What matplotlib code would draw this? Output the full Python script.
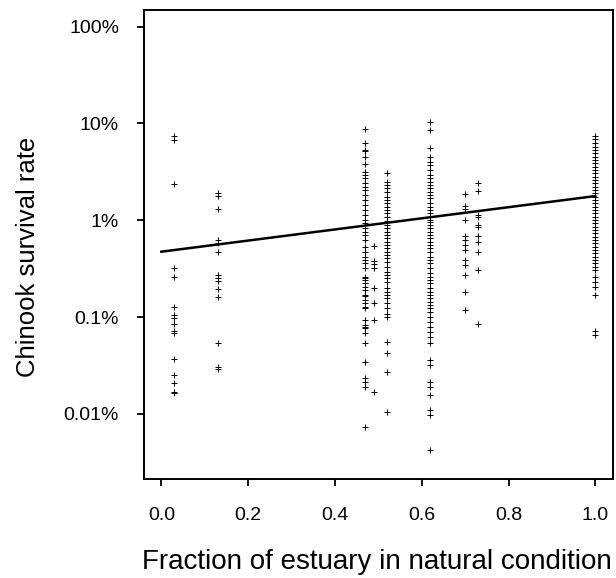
import numpy as np
import matplotlib
matplotlib.use("Agg")
import matplotlib.pyplot as plt
from matplotlib.ticker import FixedLocator, NullLocator

plt.rcParams['font.family'] = ['Liberation Sans', 'DejaVu Sans']

# fraction of estuary in natural condition for each group of releases
x_groups = [0.03, 0.13, 0.47, 0.49, 0.52, 0.62, 0.70, 0.73, 1.00]

# survival rates (%), one list per group
surv_003 = [7.43, 6.76, 2.37, 0.319, 0.258, 0.128, 0.105, 0.097, 0.085,
            0.0718, 0.068, 0.0367, 0.0251, 0.0207, 0.0169, 0.0165]
surv_013 = [1.93, 1.78, 1.31, 0.625, 0.587, 0.474, 0.272, 0.255, 0.236,
            0.194, 0.160, 0.0536, 0.0308, 0.0289]
surv_047 = [8.71, 6.25, 5.32, 5.2, 4.54, 3.79, 3.18, 2.94, 2.72, 2.41, 2.22,
            2.06, 1.83, 1.62, 1.44, 1.28, 1.13, 1.01, 0.93, 0.83, 0.76, 0.70,
            0.625, 0.533, 0.474, 0.421, 0.389, 0.360, 0.319, 0.261, 0.255,
            0.242, 0.223, 0.206, 0.191, 0.169, 0.165, 0.150, 0.139, 0.128,
            0.123, 0.093, 0.083, 0.080, 0.0766, 0.068, 0.0536, 0.0346,
            0.0233, 0.0215, 0.0191, 0.00738]
surv_049 = [0.542, 0.38, 0.35, 0.319, 0.199, 0.139, 0.093, 0.0169]
surv_052 = [3.06, 2.50, 2.32, 2.14, 1.97, 1.75, 1.62, 1.50, 1.38, 1.28, 1.18,
            1.09, 0.984, 0.894, 0.83, 0.76, 0.70, 0.652, 0.601, 0.556, 0.514,
            0.474, 0.438, 0.405, 0.373, 0.332, 0.294, 0.272, 0.252, 0.232,
            0.199, 0.183, 0.169, 0.156, 0.139, 0.123, 0.109, 0.101, 0.0557,
            0.0423, 0.0273, 0.0105]
surv_062 = [10.4, 8.57, 5.54, 4.54, 4.03, 3.73, 3.31, 2.94, 2.72, 2.50, 2.32,
            2.14, 1.97, 1.83, 1.69, 1.50, 1.38, 1.28, 1.18, 1.09, 1.01, 0.96,
            0.894, 0.83, 0.76, 0.70, 0.652, 0.601, 0.556, 0.514, 0.474,
            0.421, 0.389, 0.360, 0.319, 0.283, 0.261, 0.242, 0.223, 0.199,
            0.183, 0.169, 0.156, 0.144, 0.133, 0.123, 0.114, 0.101, 0.0896,
            0.0796, 0.0707, 0.0628, 0.0536, 0.0360, 0.0320, 0.0215, 0.0191,
            0.0157, 0.0110, 0.00975, 0.00424]
surv_070 = [1.87, 1.41, 1.30, 1.01, 0.689, 0.625, 0.556, 0.493, 0.389,
            0.345, 0.272, 0.183, 0.118]
surv_073 = [2.45, 2.01, 1.13, 1.07, 0.894, 0.859, 0.689, 0.601, 0.474,
            0.307, 0.0843]
surv_100 = [7.43, 6.87, 6.25, 5.75, 5.32, 4.92, 4.54, 4.20, 3.88, 3.58, 3.31,
            3.06, 2.82, 2.61, 2.41, 2.22, 2.06, 1.90, 1.75, 1.62, 1.50, 1.38,
            1.28, 1.18, 1.09, 1.01, 0.93, 0.86, 0.794, 0.734, 0.678, 0.625,
            0.578, 0.533, 0.493, 0.456, 0.421, 0.389, 0.360, 0.332, 0.307,
            0.261, 0.232, 0.206, 0.169, 0.0718, 0.0653]

# fitted trend line (%), end points
fit_x = [0.0, 1.0]
fit_y = [0.474, 1.78]

y_ticks = [100, 10, 1, 0.1, 0.01]
y_ticklabels = ["100%", "10%", "1%", "0.1%", "0.01%"]
x_ticks = [0.0, 0.2, 0.4, 0.6, 0.8, 1.0]
x_ticklabels = ["0.0", "0.2", "0.4", "0.6", "0.8", "1.0"]

groups = [surv_003, surv_013, surv_047, surv_049, surv_052,
          surv_062, surv_070, surv_073, surv_100]

fig = plt.figure(figsize=(6.16, 5.78), dpi=100)
ax = fig.add_axes([0.2338, 0.1713, 0.7609, 0.8114])

for xv, ys in zip(x_groups, groups):
    ax.plot([xv] * len(ys), ys, linestyle='none', marker='+',
            markersize=5, markeredgewidth=0.7, color='black')

ax.plot(fit_x, fit_y, color='black', linewidth=1.8)

ax.set_yscale('log')
ax.set_xlim(-0.04, 1.04)
ax.set_ylim(0.00213, 148.6)

ax.yaxis.set_major_locator(FixedLocator(y_ticks))
ax.yaxis.set_minor_locator(NullLocator())
ax.set_yticklabels(y_ticklabels)
ax.set_xticks(x_ticks)
ax.set_xticklabels(x_ticklabels)

ax.tick_params(axis='both', direction='out', length=5, width=1.3,
               labelsize=14)
ax.tick_params(axis='y', pad=13)
ax.tick_params(axis='x', pad=15)
for s in ax.spines.values():
    s.set_linewidth(1.4)

# axis titles placed as figure text
fig.text(28 / 616, 1 - 257 / 578, "Chinook survival rate", fontsize=18.5,
         rotation=90, ha='center', va='center')
fig.text(377 / 616, 1 - 562 / 578, "Fraction of estuary in natural condition",
         fontsize=20, ha='center', va='center')

fig.savefig("out.png", dpi=100)
